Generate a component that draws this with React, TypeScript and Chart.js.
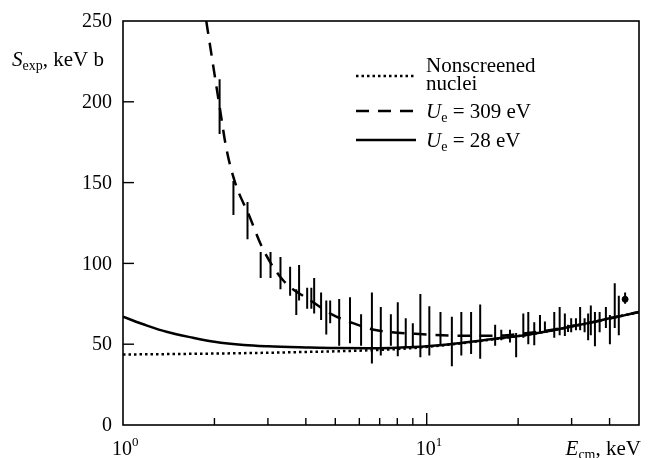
import React, { useEffect, useRef } from "react";
import { Chart, registerables } from "chart.js";
Chart.register(...registerables);

// Nonscreened nuclei (dotted)
const dottedE = [1, 2, 3, 4, 5, 6, 7, 8, 9, 10, 12.5, 15, 17, 20, 25, 30, 35, 40, 45, 50];
const dottedS = [43.6, 44.2, 44.7, 45.2, 45.6, 46, 46.5, 47, 47.6, 48.3, 50.2, 52, 53.3, 55, 58, 61, 63.5, 66, 68, 70];
// Ue = 309 eV (dashed)
const dashedE = [1.88, 2.08, 2.19, 2.34, 2.61, 2.87, 3.35, 4.18, 4.89, 5.72, 6.7, 9.18, 12.5, 17.2, 20.2, 25, 30, 35, 40, 45, 50];
const dashedS = [250, 197, 171, 150, 129, 110, 90, 76.6, 68.3, 63, 59, 56.4, 55.3, 55.3, 56.4, 58.5, 61.2, 63.6, 66, 68, 70];
// Ue = 28 eV (solid)
const solidE = [1, 1.2, 1.4, 1.7, 2, 2.5, 3, 4, 5, 7, 9, 10, 12.5, 15, 17, 20, 25, 30, 35, 40, 45, 50];
const solidS = [67, 61.5, 57.5, 54, 51.5, 49.5, 48.7, 48, 47.6, 47.5, 48.3, 48.8, 50.5, 52.2, 53.5, 55, 58, 61, 63.5, 66, 68, 70];

// Experimental error bars
const errE = [2.08, 2.31, 2.57, 2.84, 3.06, 3.30, 3.55, 3.72, 3.80, 4.04, 4.17, 4.26, 4.49, 4.67, 4.81, 5.15, 5.59, 6.08, 6.60, 7.06, 7.62, 8.03, 8.53, 9.00, 9.53, 10.2, 11.1, 12.1, 13.0, 14.0, 15.0, 16.8, 17.6, 18.8, 19.7, 20.8, 21.6, 22.6, 23.6, 24.5, 26.3, 27.4, 28.5, 29.2, 29.9, 31.0, 32.0, 33.1, 34.0, 34.7, 35.8, 37.1, 38.9, 40.1, 41.6, 42.9, 45.0];
const errHi = [214, 151, 138, 107, 107, 104, 98, 84, 99, 85, 85, 91, 82, 77, 77, 78, 79, 68.5, 82, 73, 68.5, 76, 66, 63, 81, 73.5, 70, 67, 70, 70, 74.6, 62, 59, 59, 57, 69, 70, 63.6, 68, 64, 70, 73, 69, 62, 66, 66, 73, 66, 69, 74, 70, 70, 73, 68, 87.7, 80, 82];
const errLo = [180, 130, 115, 91, 91, 84, 80, 68, 77, 72, 72, 69, 65, 56, 63, 49, 50.6, 49, 38, 43, 49, 42.6, 48, 47.5, 42, 43, 49, 36.4, 43, 44, 41, 49, 52.5, 51, 42, 54, 50, 49.4, 56.8, 57.6, 54, 55.5, 55, 57.5, 57.4, 58.6, 58.6, 57.4, 52.5, 55.5, 48.8, 57.4, 60, 50, 60, 55.5, 75];
const pointE = [45.0];
const pointS = [77.8];

const yTicks = [0, 50, 100, 150, 200, 250];
const xMinorTicks = [2, 3, 4, 5, 6, 7, 8, 9, 20, 30, 40];
const xMajorTicks = [1, 10];
const xMajorExp = ["0", "1"];
const legendLabels = ["Nonscreened", "nuclei", "309 eV", "28 eV"];

const FONT = "'Liberation Serif', 'DejaVu Serif', serif";

type Part = { t: string; size: number; italic?: boolean; dy?: number };

function drawRich(ctx: CanvasRenderingContext2D, x: number, y: number, parts: Part[], align: "left" | "right" = "left") {
  let total = 0;
  for (const p of parts) {
    ctx.font = `${p.italic ? "italic " : ""}${p.size}px ${FONT}`;
    total += ctx.measureText(p.t).width;
  }
  let cx = align === "right" ? x - total : x;
  ctx.textAlign = "left";
  ctx.textBaseline = "alphabetic";
  for (const p of parts) {
    ctx.font = `${p.italic ? "italic " : ""}${p.size}px ${FONT}`;
    ctx.fillText(p.t, cx, y + (p.dy || 0));
    cx += ctx.measureText(p.t).width;
  }
}

const decorPlugin = {
  id: "decor",
  afterDraw(chart: any) {
    const ctx: CanvasRenderingContext2D = chart.ctx;
    const { left, right, top, bottom } = chart.chartArea;
    const xs = chart.scales.x;
    const ys = chart.scales.y;
    ctx.save();
    ctx.strokeStyle = "#000";
    ctx.fillStyle = "#000";
    ctx.setLineDash([]);
    ctx.lineWidth = 1.6;
    ctx.strokeRect(left, top, right - left, bottom - top);

    // y ticks (inward) and labels
    ctx.lineWidth = 1.4;
    for (const v of yTicks) {
      const py = ys.getPixelForValue(v);
      if (v !== 0 && v !== 250) {
        ctx.beginPath();
        ctx.moveTo(left, py);
        ctx.lineTo(left + 11, py);
        ctx.stroke();
      }
      ctx.font = `20px ${FONT}`;
      ctx.textAlign = "right";
      ctx.textBaseline = "middle";
      ctx.fillText(String(v), 112, py + 1);
    }
    // x ticks
    for (const v of xMinorTicks) {
      const px = xs.getPixelForValue(v);
      ctx.beginPath();
      ctx.moveTo(px, bottom);
      ctx.lineTo(px, bottom - 7);
      ctx.stroke();
    }
    {
      const px = xs.getPixelForValue(10);
      ctx.beginPath();
      ctx.moveTo(px, bottom);
      ctx.lineTo(px, bottom - 12);
      ctx.stroke();
    }
    xMajorTicks.forEach((v, i) => {
      const px = xs.getPixelForValue(v);
      drawRich(ctx, px - 11, 455, [
        { t: "10", size: 20 },
        { t: xMajorExp[i], size: 13, dy: -9 },
      ]);
    });
    drawRich(ctx, 641, 455, [
      { t: "E", size: 21, italic: true },
      { t: "cm", size: 14, dy: 4 },
      { t: ", keV", size: 21 },
    ], "right");

    // y title
    drawRich(ctx, 12, 66, [
      { t: "S", size: 21, italic: true },
      { t: "exp", size: 14, dy: 4 },
      { t: ", keV b", size: 21 },
    ]);

    // legend
    const lx0 = 356, lx1 = 416;
    ctx.lineWidth = 2.5;
    ctx.lineCap = "butt";
    ctx.setLineDash([2.5, 3]);
    ctx.beginPath(); ctx.moveTo(lx0, 76); ctx.lineTo(lx1, 76); ctx.stroke();
    ctx.setLineDash([13, 9]);
    ctx.beginPath(); ctx.moveTo(lx0, 111); ctx.lineTo(lx1 + 2, 111); ctx.stroke();
    ctx.setLineDash([]);
    ctx.beginPath(); ctx.moveTo(lx0, 140); ctx.lineTo(lx1, 140); ctx.stroke();

    drawRich(ctx, 426, 72, [{ t: legendLabels[0], size: 21 }]);
    drawRich(ctx, 426, 90, [{ t: legendLabels[1], size: 21 }]);
    drawRich(ctx, 426, 118, [
      { t: "U", size: 21, italic: true },
      { t: "e", size: 14, dy: 4 },
      { t: " = " + legendLabels[2], size: 21 },
    ]);
    drawRich(ctx, 426, 147, [
      { t: "U", size: 21, italic: true },
      { t: "e", size: 14, dy: 4 },
      { t: " = " + legendLabels[3], size: 21 },
    ]);
    ctx.restore();
  },
};

export default function App() {
  const ref = useRef<HTMLCanvasElement | null>(null);
  useEffect(() => {
    document.body.style.margin = "0";
    const canvas = ref.current!;
    const errData: any[] = [];
    errE.forEach((e, i) => {
      errData.push({ x: e, y: errLo[i] });
      errData.push({ x: e, y: errHi[i] });
      errData.push({ x: e, y: null });
    });
    const chart = new Chart(canvas, {
      type: "line",
      data: {
        datasets: [
          {
            data: dottedE.map((e, i) => ({ x: e, y: dottedS[i] })),
            borderColor: "#000",
            borderWidth: 2.5,
            borderDash: [2.5, 3],
            pointRadius: 0,
            cubicInterpolationMode: "monotone",
          },
          {
            data: solidE.map((e, i) => ({ x: e, y: solidS[i] })),
            borderColor: "#000",
            borderWidth: 2.5,
            pointRadius: 0,
            cubicInterpolationMode: "monotone",
          },
          {
            data: dashedE.map((e, i) => ({ x: e, y: dashedS[i] })),
            borderColor: "#000",
            borderWidth: 2.5,
            borderDash: [13, 9],
            pointRadius: 0,
            cubicInterpolationMode: "monotone",
          },
          {
            data: errData,
            borderColor: "#000",
            borderWidth: 2,
            pointRadius: 0,
            spanGaps: false,
            tension: 0,
          },
          {
            data: pointE.map((e, i) => ({ x: e, y: pointS[i] })),
            borderColor: "#000",
            backgroundColor: "#000",
            showLine: false,
            pointRadius: 3,
          },
        ],
      } as any,
      options: {
        responsive: false,
        animation: false,
        devicePixelRatio: 1,
        layout: { padding: { left: 123, right: 9, top: 21, bottom: 33 } },
        plugins: { legend: { display: false }, tooltip: { enabled: false } },
        scales: {
          x: { type: "logarithmic", min: 1, max: 50, display: false },
          y: { type: "linear", min: 0, max: 250, display: false },
        },
      } as any,
      plugins: [decorPlugin],
    });
    return () => chart.destroy();
  }, []);
  return (
    <div style={{ width: 648, height: 458, background: "#fff" }}>
      <canvas ref={ref} width={648} height={458} style={{ display: "block" }} />
    </div>
  );
}
